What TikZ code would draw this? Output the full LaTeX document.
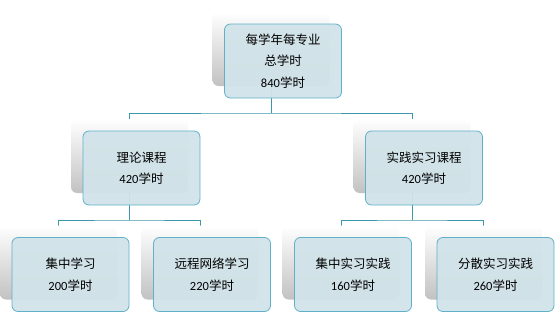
\documentclass[tikz,border=0pt]{standalone}
\usepackage{fontspec}
\setmainfont{Carlito}
\newfontfamily\cjk{Noto Sans CJK SC}
\usetikzlibrary{backgrounds}
\definecolor{cardfill}{RGB}{209,227,233}
\definecolor{cardline}{RGB}{96,176,202}
\definecolor{linkline}{RGB}{62,150,170}
\tikzset{
  back/.style={rectangle, rounded corners=6pt, minimum width=117pt, minimum height=74pt,
    inner sep=0pt, top color=white, bottom color=black!24},
  card/.style={rectangle, rounded corners=6pt, minimum width=117pt, minimum height=74pt,
    draw=cardline, line width=0.8pt, fill=cardfill, fill opacity=0.95, text opacity=1,
    align=center, xshift=12pt, yshift=-12pt,
    font=\fontsize{12.5}{21.5}\selectfont\cjk},
  link/.style={draw=linkline, line width=0.9pt}
}
\begin{document}
\begin{tikzpicture}[x=1pt,y=-1pt]
\useasboundingbox (0,0) rectangle (555,324);
% top level
\node[back] (totalbg) at (271,49) {};
\node[card] (total) at (totalbg) {每学年每专业\\总学时\\{\rmfamily 840}学时};
% second level
\node[back] (theorybg) at (129.5,156) {};
\node[card] (theory) at (theorybg) {理论课程\\{\rmfamily 420}学时};
\node[back] (practicebg) at (412,156) {};
\node[card] (practice) at (practicebg) {实践实习课程\\{\rmfamily 420}学时};
% third level
\node[back] (focusbg) at (58.5,262.5) {};
\node[card] (focus) at (focusbg) {集中学习\\{\rmfamily 200}学时};
\node[back] (onlinebg) at (200,262.5) {};
\node[card] (online) at (onlinebg) {远程网络学习\\{\rmfamily 220}学时};
\node[back] (blockbg) at (341,262.5) {};
\node[card] (block) at (blockbg) {集中实习实践\\{\rmfamily 160}学时};
\node[back] (spreadbg) at (483.5,262.5) {};
\node[card] (spread) at (spreadbg) {分散实习实践\\{\rmfamily 260}学时};
% connectors
\coordinate (split) at (271,113);
\coordinate (tsplit) at (129.5,220);
\coordinate (psplit) at (412,220);
\begin{scope}[on background layer]
\draw[link] (totalbg.center) -- (split);
\draw[link] (theorybg.center) |- (split) -| (practicebg.center);
\draw[link] (theorybg.center) -- (tsplit);
\draw[link] (focusbg.center) |- (tsplit) -| (onlinebg.center);
\draw[link] (practicebg.center) -- (psplit);
\draw[link] (blockbg.center) |- (psplit) -| (spreadbg.center);
\end{scope}
\end{tikzpicture}
\end{document}
